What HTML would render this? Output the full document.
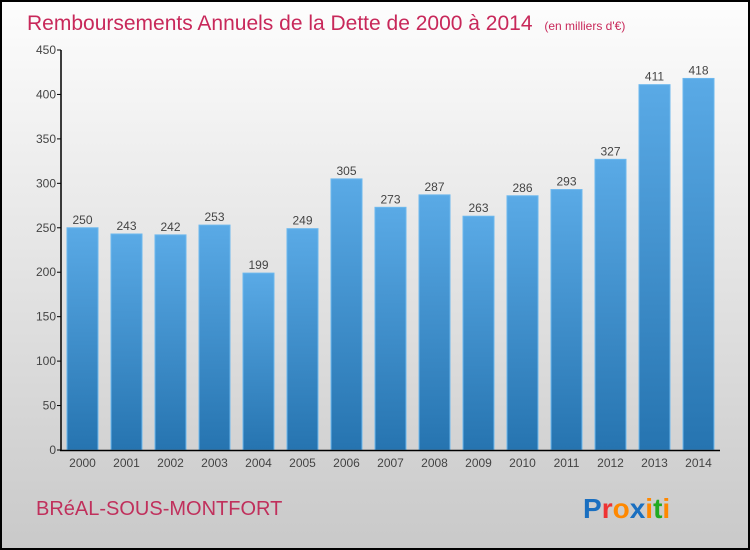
<!DOCTYPE html>
<html><head><meta charset="utf-8"><style>
body{margin:0}
svg{display:block;font-family:"Liberation Sans",sans-serif}
</style></head><body>
<svg width="750" height="550" viewBox="0 0 750 550">
<defs>
<linearGradient id="bg" x1="0" y1="0" x2="0" y2="1"><stop offset="0" stop-color="#fdfdfd"/><stop offset="1" stop-color="#c9c9c9"/></linearGradient>
<linearGradient id="bar" x1="0" y1="0" x2="0" y2="1"><stop offset="0" stop-color="#5aaae6"/><stop offset="1" stop-color="#2674b0"/></linearGradient>
</defs>
<rect x="1" y="1" width="748" height="548" fill="url(#bg)" stroke="#000" stroke-width="2"/>
<text x="27" y="30" font-size="21" fill="#c8285a">Remboursements Annuels de la Dette de 2000 à 2014 <tspan font-size="12" dx="6">(en milliers d'€)</tspan></text>
<g id="plot"></g>
<text x="36" y="515" font-size="20" fill="#c0305c">BRéAL-SOUS-MONTFORT</text>
<text x="583" y="518" font-size="28" font-weight="bold"><tspan fill="#1a6fc0">P</tspan><tspan fill="#e33">r</tspan><tspan fill="#f80">o</tspan><tspan fill="#1a6fc0">x</tspan><tspan fill="#f80">i</tspan><tspan fill="#2a2">t</tspan><tspan fill="#f80">i</tspan></text>
</svg>
<script>
const years=["2000","2001","2002","2003","2004","2005","2006","2007","2008","2009","2010","2011","2012","2013","2014"];
const values=[250,243,242,253,199,249,305,273,287,263,286,293,327,411,418];
const ticks=[0,50,100,150,200,250,300,350,400,450];
const NS="http://www.w3.org/2000/svg";
const g=document.getElementById('plot');
const y=v=>450-v*400/450;
const x=i=>67+i*44;
function mk(t,a,txt){const e=document.createElementNS(NS,t);for(const k in a)e.setAttribute(k,a[k]);if(txt!=null)e.textContent=txt;g.appendChild(e);return e;}
ticks.forEach(t=>{
 const l=mk('line',{x1:57,x2:61,y1:y(t),y2:y(t),stroke:'#000'});
 
 
 const s=mk('text',{x:56,y:y(t)+4,'font-size':12,fill:'#444','text-anchor':'end'},t);
 
 
});
values.forEach((v,i)=>{
 const r=mk('rect',{x:x(i),y:y(v),width:31,height:450-y(v),fill:'url(#bar)',stroke:'#6cb8ee','stroke-width':1});
 
 
 const t=mk('text',{x:x(i)+15.5,y:y(v)-4,'font-size':12,fill:'#444','text-anchor':'middle'},v);
 
 
 const xl=mk('text',{x:x(i)+15.5,y:467,'font-size':12,fill:'#444','text-anchor':'middle'},years[i]);
 
 
});
const ya=mk('line',{x1:61,x2:61,y1:50,y2:451,stroke:'#000','stroke-width':1.5});


const xa=mk('line',{x1:60,x2:720,y1:450.5,y2:450.5,stroke:'#000','stroke-width':1.5});


</script>
</body></html>
